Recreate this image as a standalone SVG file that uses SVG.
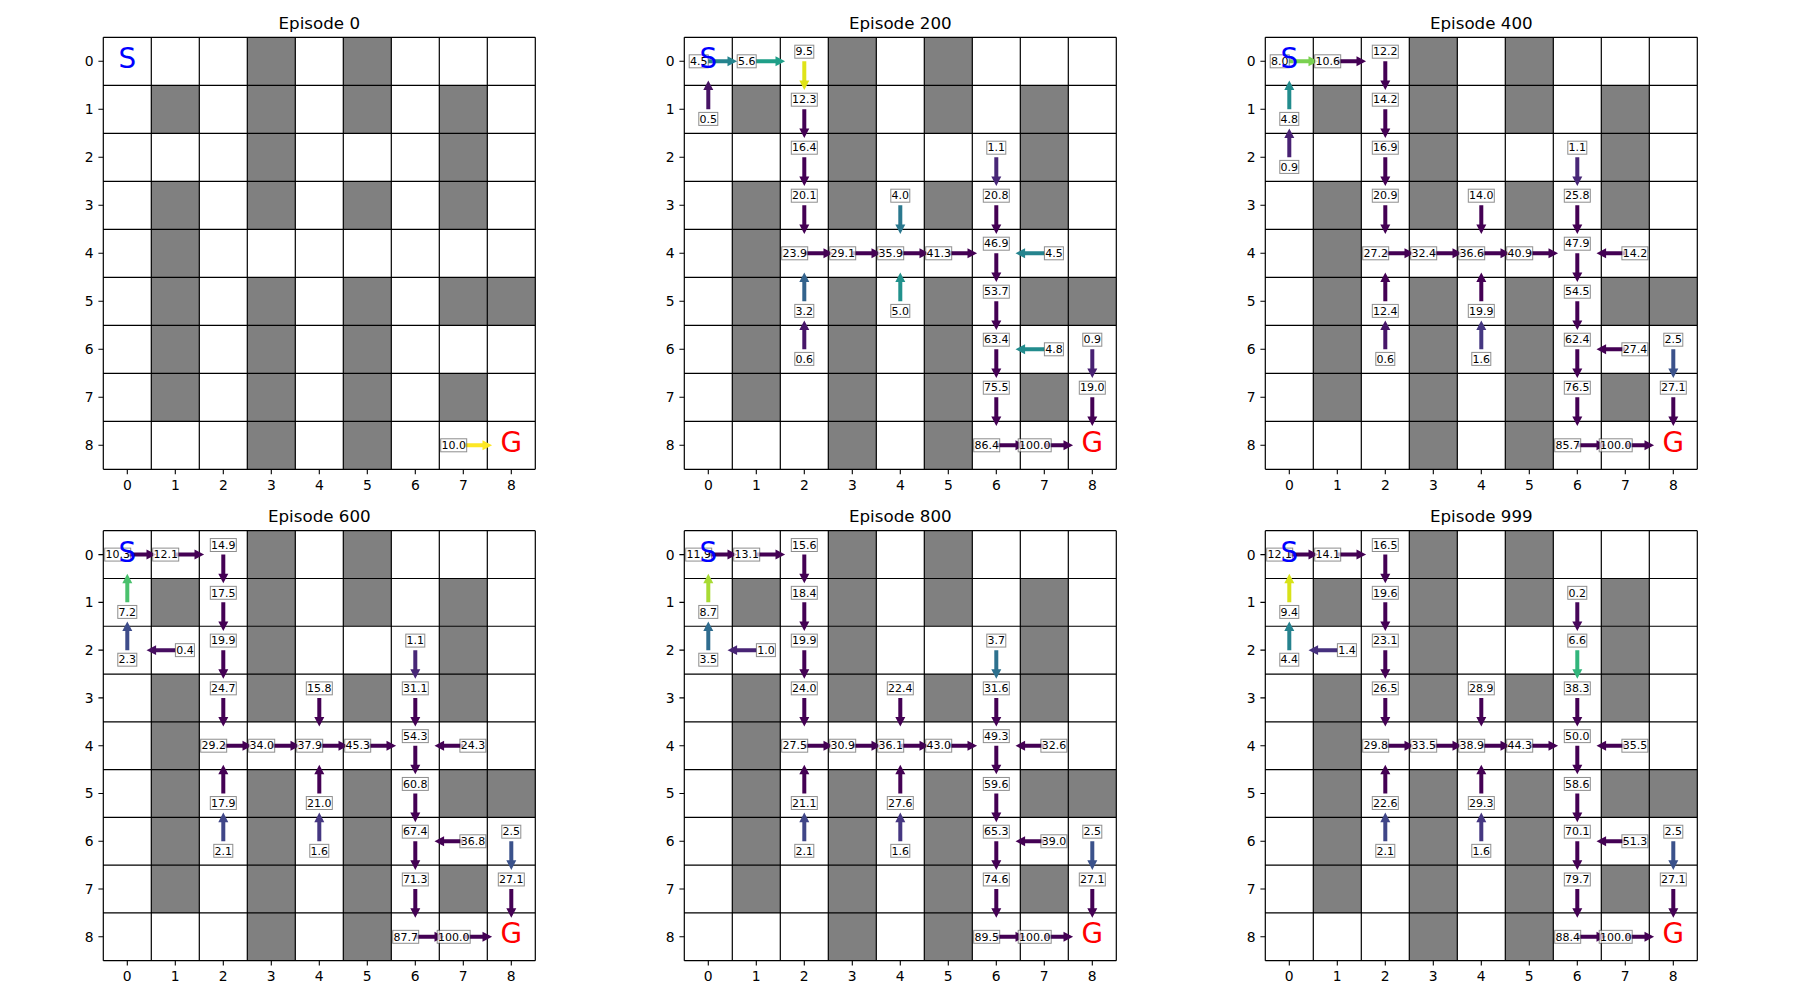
<svg xmlns="http://www.w3.org/2000/svg" xmlns:xlink="http://www.w3.org/1999/xlink" width="1800" height="1000" viewBox="0 0 1800 1000">
<style>
text{font-family:"DejaVu Sans","Liberation Sans",sans-serif}
.title{font-size:16.7px;text-anchor:middle;fill:#000}
.tk{font-size:13.9px;fill:#000}
.tky{text-anchor:end}
.tkx{text-anchor:middle}
.arrows{fill:#440154}
.labels text{font-size:11px;text-anchor:middle;fill:#000}
.sg{font-size:27.8px;text-anchor:middle}
</style>
<defs>
<path id="R" d="M0,-2H19.2V-5L28.8,0L19.2,5V2H0Z"/>
<path id="L" d="M0,-2H-19.2V-5L-28.8,0L-19.2,5V2H0Z"/>
<path id="D" d="M-2,0V19.2H-5L0,28.8L5,19.2H2V0Z"/>
<path id="U" d="M-2,0V-19.2H-5L0,-28.8L5,-19.2H2V0Z"/>
<rect id="b3" x="-9.5" y="-6.5" width="19" height="13" fill="#fff" fill-opacity="0.7" stroke="#000" stroke-opacity="0.45" stroke-width="1"/>
<rect id="b4" x="-13" y="-6.5" width="26" height="13" fill="#fff" fill-opacity="0.7" stroke="#000" stroke-opacity="0.45" stroke-width="1"/>
<rect id="b5" x="-16.5" y="-6.5" width="33" height="13" fill="#fff" fill-opacity="0.7" stroke="#000" stroke-opacity="0.45" stroke-width="1"/>
<g id="board">
<rect width="432" height="432" fill="#fff"/>
<g fill="#808080">
<rect x="144" y="0" width="48" height="48"/><rect x="240" y="0" width="48" height="48"/>
<rect x="48" y="48" width="48" height="48"/><rect x="144" y="48" width="48" height="48"/><rect x="240" y="48" width="48" height="48"/><rect x="336" y="48" width="48" height="48"/>
<rect x="144" y="96" width="48" height="48"/><rect x="336" y="96" width="48" height="48"/>
<rect x="48" y="144" width="48" height="48"/><rect x="144" y="144" width="48" height="48"/><rect x="240" y="144" width="48" height="48"/><rect x="336" y="144" width="48" height="48"/>
<rect x="48" y="192" width="48" height="48"/>
<rect x="48" y="240" width="48" height="48"/><rect x="144" y="240" width="48" height="48"/><rect x="240" y="240" width="48" height="48"/><rect x="336" y="240" width="48" height="48"/><rect x="384" y="240" width="48" height="48"/>
<rect x="48" y="288" width="48" height="48"/><rect x="144" y="288" width="48" height="48"/><rect x="240" y="288" width="48" height="48"/>
<rect x="48" y="336" width="48" height="48"/><rect x="144" y="336" width="48" height="48"/><rect x="240" y="336" width="48" height="48"/><rect x="336" y="336" width="48" height="48"/>
<rect x="144" y="384" width="48" height="48"/><rect x="240" y="384" width="48" height="48"/>
</g>
<path fill="none" stroke="#000" stroke-width="1.2" d="M0,0V432M48,0V432M96,0V432M144,0V432M192,0V432M240,0V432M288,0V432M336,0V432M384,0V432M432,0V432M0,0H432M0,48H432M0,96H432M0,144H432M0,192H432M0,240H432M0,288H432M0,336H432M0,384H432M0,432H432"/>
<path fill="none" stroke="#000" stroke-width="1.1" d="M-4.9,24H0M-4.9,72H0M-4.9,120H0M-4.9,168H0M-4.9,216H0M-4.9,264H0M-4.9,312H0M-4.9,360H0M-4.9,408H0M24,432V436.9M72,432V436.9M120,432V436.9M168,432V436.9M216,432V436.9M264,432V436.9M312,432V436.9M360,432V436.9M408,432V436.9"/>
<g class="tk tky">
<text x="-9.7" y="29">0</text><text x="-9.7" y="77">1</text><text x="-9.7" y="125">2</text><text x="-9.7" y="173">3</text><text x="-9.7" y="221">4</text><text x="-9.7" y="269">5</text><text x="-9.7" y="317">6</text><text x="-9.7" y="365">7</text><text x="-9.7" y="413">8</text>
</g>
<g class="tk tkx">
<text x="24" y="452.7">0</text><text x="72" y="452.7">1</text><text x="120" y="452.7">2</text><text x="168" y="452.7">3</text><text x="216" y="452.7">4</text><text x="264" y="452.7">5</text><text x="312" y="452.7">6</text><text x="360" y="452.7">7</text><text x="408" y="452.7">8</text>
</g>
</g>
<g id="sg">
<text class="sg" x="24" y="31" fill="#0000ff">S</text>
<text class="sg" x="408" y="414.7" fill="#ff0000">G</text>
</g>
</defs>

<rect width="1800" height="1000" fill="#fff"/>

<!-- Episode 0 -->
<g id="ep0" transform="translate(103.3,37.3)">
<text class="title" x="216" y="-8.3">Episode 0</text>
<use href="#board"/>
<g id="ep0-arrows" class="arrows">
<use href="#R" x="360" y="408" fill="#fde725"/>
</g>
<g id="ep0-labels" class="labels">
<use href="#b4" x="350.4" y="408"/><text x="350.4" y="411.8">10.0</text>
</g>
<use href="#sg"/>
</g>

<!-- Episode 200 -->
<g id="ep200" transform="translate(684.3,37.3)">
<text class="title" x="216" y="-8.3">Episode 200</text>
<use href="#board"/>
<g id="ep200-arrows" class="arrows">
<use href="#R" x="24" y="24" fill="#25848e"/>
<use href="#R" x="72" y="24" fill="#1f9f88"/>
<use href="#D" x="120" y="24" fill="#dfe318"/>
<use href="#U" x="24" y="72" fill="#471365"/>
<use href="#D" x="120" y="72"/>
<use href="#D" x="120" y="120"/>
<use href="#D" x="120" y="168"/>
<use href="#R" x="120" y="216"/>
<use href="#R" x="168" y="216"/>
<use href="#R" x="216" y="216"/>
<use href="#R" x="264" y="216"/>
<use href="#D" x="312" y="120" fill="#482777"/>
<use href="#D" x="216" y="168" fill="#2a788e"/>
<use href="#D" x="312" y="168"/>
<use href="#D" x="312" y="216"/>
<use href="#L" x="360" y="216" fill="#25848e"/>
<use href="#U" x="120" y="264" fill="#33638d"/>
<use href="#U" x="216" y="264" fill="#21918c"/>
<use href="#D" x="312" y="264"/>
<use href="#U" x="120" y="312" fill="#471669"/>
<use href="#D" x="312" y="312"/>
<use href="#L" x="360" y="312" fill="#228c8d"/>
<use href="#D" x="408" y="312" fill="#482173"/>
<use href="#D" x="312" y="360"/>
<use href="#D" x="408" y="360"/>
<use href="#R" x="312" y="408"/>
<use href="#R" x="360" y="408"/>
</g>
<g id="ep200-labels" class="labels">
<use href="#b3" x="14.4" y="24"/><text x="14.4" y="27.8">4.5</text>
<use href="#b3" x="62.4" y="24"/><text x="62.4" y="27.8">5.6</text>
<use href="#b3" x="120" y="14.4"/><text x="120" y="18.2">9.5</text>
<use href="#b3" x="24" y="81.6"/><text x="24" y="85.4">0.5</text>
<use href="#b4" x="120" y="62.4"/><text x="120" y="66.2">12.3</text>
<use href="#b4" x="120" y="110.4"/><text x="120" y="114.2">16.4</text>
<use href="#b4" x="120" y="158.4"/><text x="120" y="162.2">20.1</text>
<use href="#b4" x="110.4" y="216"/><text x="110.4" y="219.8">23.9</text>
<use href="#b4" x="158.4" y="216"/><text x="158.4" y="219.8">29.1</text>
<use href="#b4" x="206.4" y="216"/><text x="206.4" y="219.8">35.9</text>
<use href="#b4" x="254.4" y="216"/><text x="254.4" y="219.8">41.3</text>
<use href="#b3" x="312" y="110.4"/><text x="312" y="114.2">1.1</text>
<use href="#b3" x="216" y="158.4"/><text x="216" y="162.2">4.0</text>
<use href="#b4" x="312" y="158.4"/><text x="312" y="162.2">20.8</text>
<use href="#b4" x="312" y="206.4"/><text x="312" y="210.2">46.9</text>
<use href="#b3" x="369.6" y="216"/><text x="369.6" y="219.8">4.5</text>
<use href="#b3" x="120" y="273.6"/><text x="120" y="277.4">3.2</text>
<use href="#b3" x="216" y="273.6"/><text x="216" y="277.4">5.0</text>
<use href="#b4" x="312" y="254.4"/><text x="312" y="258.2">53.7</text>
<use href="#b3" x="120" y="321.6"/><text x="120" y="325.4">0.6</text>
<use href="#b4" x="312" y="302.4"/><text x="312" y="306.2">63.4</text>
<use href="#b3" x="369.6" y="312"/><text x="369.6" y="315.8">4.8</text>
<use href="#b3" x="408" y="302.4"/><text x="408" y="306.2">0.9</text>
<use href="#b4" x="312" y="350.4"/><text x="312" y="354.2">75.5</text>
<use href="#b4" x="408" y="350.4"/><text x="408" y="354.2">19.0</text>
<use href="#b4" x="302.4" y="408"/><text x="302.4" y="411.8">86.4</text>
<use href="#b5" x="350.4" y="408"/><text x="350.4" y="411.8">100.0</text>
</g>
<use href="#sg"/>
</g>

<!-- Episode 400 -->
<g id="ep400" transform="translate(1265.3,37.3)">
<text class="title" x="216" y="-8.3">Episode 400</text>
<use href="#board"/>
<g id="ep400-arrows" class="arrows">
<use href="#R" x="24" y="24" fill="#7ad151"/>
<use href="#R" x="72" y="24"/>
<use href="#D" x="120" y="24"/>
<use href="#U" x="24" y="72" fill="#228c8d"/>
<use href="#D" x="120" y="72"/>
<use href="#U" x="24" y="120" fill="#482173"/>
<use href="#D" x="120" y="120"/>
<use href="#D" x="312" y="120" fill="#482777"/>
<use href="#D" x="120" y="168"/>
<use href="#D" x="216" y="168"/>
<use href="#D" x="312" y="168"/>
<use href="#R" x="120" y="216"/>
<use href="#R" x="168" y="216"/>
<use href="#R" x="216" y="216"/>
<use href="#R" x="264" y="216"/>
<use href="#D" x="312" y="216"/>
<use href="#L" x="360" y="216"/>
<use href="#U" x="120" y="264"/>
<use href="#U" x="216" y="264"/>
<use href="#D" x="312" y="264"/>
<use href="#U" x="120" y="312" fill="#471669"/>
<use href="#U" x="216" y="312" fill="#453781"/>
<use href="#D" x="312" y="312"/>
<use href="#L" x="360" y="312"/>
<use href="#D" x="408" y="312" fill="#3b528b"/>
<use href="#D" x="312" y="360"/>
<use href="#D" x="408" y="360"/>
<use href="#R" x="312" y="408"/>
<use href="#R" x="360" y="408"/>
</g>
<g id="ep400-labels" class="labels">
<use href="#b3" x="14.4" y="24"/><text x="14.4" y="27.8">8.0</text>
<use href="#b4" x="62.4" y="24"/><text x="62.4" y="27.8">10.6</text>
<use href="#b4" x="120" y="14.4"/><text x="120" y="18.2">12.2</text>
<use href="#b3" x="24" y="81.6"/><text x="24" y="85.4">4.8</text>
<use href="#b4" x="120" y="62.4"/><text x="120" y="66.2">14.2</text>
<use href="#b3" x="24" y="129.6"/><text x="24" y="133.4">0.9</text>
<use href="#b4" x="120" y="110.4"/><text x="120" y="114.2">16.9</text>
<use href="#b3" x="312" y="110.4"/><text x="312" y="114.2">1.1</text>
<use href="#b4" x="120" y="158.4"/><text x="120" y="162.2">20.9</text>
<use href="#b4" x="216" y="158.4"/><text x="216" y="162.2">14.0</text>
<use href="#b4" x="312" y="158.4"/><text x="312" y="162.2">25.8</text>
<use href="#b4" x="110.4" y="216"/><text x="110.4" y="219.8">27.2</text>
<use href="#b4" x="158.4" y="216"/><text x="158.4" y="219.8">32.4</text>
<use href="#b4" x="206.4" y="216"/><text x="206.4" y="219.8">36.6</text>
<use href="#b4" x="254.4" y="216"/><text x="254.4" y="219.8">40.9</text>
<use href="#b4" x="312" y="206.4"/><text x="312" y="210.2">47.9</text>
<use href="#b4" x="369.6" y="216"/><text x="369.6" y="219.8">14.2</text>
<use href="#b4" x="120" y="273.6"/><text x="120" y="277.4">12.4</text>
<use href="#b4" x="216" y="273.6"/><text x="216" y="277.4">19.9</text>
<use href="#b4" x="312" y="254.4"/><text x="312" y="258.2">54.5</text>
<use href="#b3" x="120" y="321.6"/><text x="120" y="325.4">0.6</text>
<use href="#b3" x="216" y="321.6"/><text x="216" y="325.4">1.6</text>
<use href="#b4" x="312" y="302.4"/><text x="312" y="306.2">62.4</text>
<use href="#b4" x="369.6" y="312"/><text x="369.6" y="315.8">27.4</text>
<use href="#b3" x="408" y="302.4"/><text x="408" y="306.2">2.5</text>
<use href="#b4" x="312" y="350.4"/><text x="312" y="354.2">76.5</text>
<use href="#b4" x="408" y="350.4"/><text x="408" y="354.2">27.1</text>
<use href="#b4" x="302.4" y="408"/><text x="302.4" y="411.8">85.7</text>
<use href="#b5" x="350.4" y="408"/><text x="350.4" y="411.8">100.0</text>
</g>
<use href="#sg"/>
</g>

<!-- Episode 600 -->
<g id="ep600" transform="translate(103.3,530.7) scale(1,0.99537)">
<text class="title" x="216" y="-8.3">Episode 600</text>
<use href="#board"/>
<g id="ep600-arrows" class="arrows">
<use href="#R" x="24" y="24"/>
<use href="#R" x="72" y="24"/>
<use href="#D" x="120" y="24"/>
<use href="#U" x="24" y="72" fill="#4ac16d"/>
<use href="#D" x="120" y="72"/>
<use href="#U" x="24" y="120" fill="#3e4c8a"/>
<use href="#L" x="72" y="120" fill="#470e61"/>
<use href="#D" x="120" y="120"/>
<use href="#D" x="312" y="120" fill="#482777"/>
<use href="#D" x="120" y="168"/>
<use href="#D" x="216" y="168"/>
<use href="#D" x="312" y="168"/>
<use href="#R" x="120" y="216"/>
<use href="#R" x="168" y="216"/>
<use href="#R" x="216" y="216"/>
<use href="#R" x="264" y="216"/>
<use href="#D" x="312" y="216"/>
<use href="#L" x="360" y="216"/>
<use href="#U" x="120" y="264"/>
<use href="#U" x="216" y="264"/>
<use href="#D" x="312" y="264"/>
<use href="#U" x="120" y="312" fill="#404688"/>
<use href="#U" x="216" y="312" fill="#453781"/>
<use href="#D" x="312" y="312"/>
<use href="#L" x="360" y="312"/>
<use href="#D" x="408" y="312" fill="#3b528b"/>
<use href="#D" x="312" y="360"/>
<use href="#D" x="408" y="360"/>
<use href="#R" x="312" y="408"/>
<use href="#R" x="360" y="408"/>
</g>
<g id="ep600-labels" class="labels">
<use href="#b4" x="14.4" y="24"/><text x="14.4" y="27.8">10.3</text>
<use href="#b4" x="62.4" y="24"/><text x="62.4" y="27.8">12.1</text>
<use href="#b4" x="120" y="14.4"/><text x="120" y="18.2">14.9</text>
<use href="#b3" x="24" y="81.6"/><text x="24" y="85.4">7.2</text>
<use href="#b4" x="120" y="62.4"/><text x="120" y="66.2">17.5</text>
<use href="#b3" x="24" y="129.6"/><text x="24" y="133.4">2.3</text>
<use href="#b3" x="81.6" y="120"/><text x="81.6" y="123.8">0.4</text>
<use href="#b4" x="120" y="110.4"/><text x="120" y="114.2">19.9</text>
<use href="#b3" x="312" y="110.4"/><text x="312" y="114.2">1.1</text>
<use href="#b4" x="120" y="158.4"/><text x="120" y="162.2">24.7</text>
<use href="#b4" x="216" y="158.4"/><text x="216" y="162.2">15.8</text>
<use href="#b4" x="312" y="158.4"/><text x="312" y="162.2">31.1</text>
<use href="#b4" x="110.4" y="216"/><text x="110.4" y="219.8">29.2</text>
<use href="#b4" x="158.4" y="216"/><text x="158.4" y="219.8">34.0</text>
<use href="#b4" x="206.4" y="216"/><text x="206.4" y="219.8">37.9</text>
<use href="#b4" x="254.4" y="216"/><text x="254.4" y="219.8">45.3</text>
<use href="#b4" x="312" y="206.4"/><text x="312" y="210.2">54.3</text>
<use href="#b4" x="369.6" y="216"/><text x="369.6" y="219.8">24.3</text>
<use href="#b4" x="120" y="273.6"/><text x="120" y="277.4">17.9</text>
<use href="#b4" x="216" y="273.6"/><text x="216" y="277.4">21.0</text>
<use href="#b4" x="312" y="254.4"/><text x="312" y="258.2">60.8</text>
<use href="#b3" x="120" y="321.6"/><text x="120" y="325.4">2.1</text>
<use href="#b3" x="216" y="321.6"/><text x="216" y="325.4">1.6</text>
<use href="#b4" x="312" y="302.4"/><text x="312" y="306.2">67.4</text>
<use href="#b4" x="369.6" y="312"/><text x="369.6" y="315.8">36.8</text>
<use href="#b3" x="408" y="302.4"/><text x="408" y="306.2">2.5</text>
<use href="#b4" x="312" y="350.4"/><text x="312" y="354.2">71.3</text>
<use href="#b4" x="408" y="350.4"/><text x="408" y="354.2">27.1</text>
<use href="#b4" x="302.4" y="408"/><text x="302.4" y="411.8">87.7</text>
<use href="#b5" x="350.4" y="408"/><text x="350.4" y="411.8">100.0</text>
</g>
<use href="#sg"/>
</g>

<!-- Episode 800 -->
<g id="ep800" transform="translate(684.3,530.7) scale(1,0.99537)">
<text class="title" x="216" y="-8.3">Episode 800</text>
<use href="#board"/>
<g id="ep800-arrows" class="arrows">
<use href="#R" x="24" y="24"/>
<use href="#R" x="72" y="24"/>
<use href="#D" x="120" y="24"/>
<use href="#U" x="24" y="72" fill="#a8db34"/>
<use href="#D" x="120" y="72"/>
<use href="#U" x="24" y="120" fill="#2f6c8e"/>
<use href="#L" x="72" y="120" fill="#482475"/>
<use href="#D" x="120" y="120"/>
<use href="#D" x="312" y="120" fill="#2d718e"/>
<use href="#D" x="120" y="168"/>
<use href="#D" x="216" y="168"/>
<use href="#D" x="312" y="168"/>
<use href="#R" x="120" y="216"/>
<use href="#R" x="168" y="216"/>
<use href="#R" x="216" y="216"/>
<use href="#R" x="264" y="216"/>
<use href="#D" x="312" y="216"/>
<use href="#L" x="360" y="216"/>
<use href="#U" x="120" y="264"/>
<use href="#U" x="216" y="264"/>
<use href="#D" x="312" y="264"/>
<use href="#U" x="120" y="312" fill="#404688"/>
<use href="#U" x="216" y="312" fill="#453781"/>
<use href="#D" x="312" y="312"/>
<use href="#L" x="360" y="312"/>
<use href="#D" x="408" y="312" fill="#3b528b"/>
<use href="#D" x="312" y="360"/>
<use href="#D" x="408" y="360"/>
<use href="#R" x="312" y="408"/>
<use href="#R" x="360" y="408"/>
</g>
<g id="ep800-labels" class="labels">
<use href="#b4" x="14.4" y="24"/><text x="14.4" y="27.8">11.9</text>
<use href="#b4" x="62.4" y="24"/><text x="62.4" y="27.8">13.1</text>
<use href="#b4" x="120" y="14.4"/><text x="120" y="18.2">15.6</text>
<use href="#b3" x="24" y="81.6"/><text x="24" y="85.4">8.7</text>
<use href="#b4" x="120" y="62.4"/><text x="120" y="66.2">18.4</text>
<use href="#b3" x="24" y="129.6"/><text x="24" y="133.4">3.5</text>
<use href="#b3" x="81.6" y="120"/><text x="81.6" y="123.8">1.0</text>
<use href="#b4" x="120" y="110.4"/><text x="120" y="114.2">19.9</text>
<use href="#b3" x="312" y="110.4"/><text x="312" y="114.2">3.7</text>
<use href="#b4" x="120" y="158.4"/><text x="120" y="162.2">24.0</text>
<use href="#b4" x="216" y="158.4"/><text x="216" y="162.2">22.4</text>
<use href="#b4" x="312" y="158.4"/><text x="312" y="162.2">31.6</text>
<use href="#b4" x="110.4" y="216"/><text x="110.4" y="219.8">27.5</text>
<use href="#b4" x="158.4" y="216"/><text x="158.4" y="219.8">30.9</text>
<use href="#b4" x="206.4" y="216"/><text x="206.4" y="219.8">36.1</text>
<use href="#b4" x="254.4" y="216"/><text x="254.4" y="219.8">43.0</text>
<use href="#b4" x="312" y="206.4"/><text x="312" y="210.2">49.3</text>
<use href="#b4" x="369.6" y="216"/><text x="369.6" y="219.8">32.6</text>
<use href="#b4" x="120" y="273.6"/><text x="120" y="277.4">21.1</text>
<use href="#b4" x="216" y="273.6"/><text x="216" y="277.4">27.6</text>
<use href="#b4" x="312" y="254.4"/><text x="312" y="258.2">59.6</text>
<use href="#b3" x="120" y="321.6"/><text x="120" y="325.4">2.1</text>
<use href="#b3" x="216" y="321.6"/><text x="216" y="325.4">1.6</text>
<use href="#b4" x="312" y="302.4"/><text x="312" y="306.2">65.3</text>
<use href="#b4" x="369.6" y="312"/><text x="369.6" y="315.8">39.0</text>
<use href="#b3" x="408" y="302.4"/><text x="408" y="306.2">2.5</text>
<use href="#b4" x="312" y="350.4"/><text x="312" y="354.2">74.6</text>
<use href="#b4" x="408" y="350.4"/><text x="408" y="354.2">27.1</text>
<use href="#b4" x="302.4" y="408"/><text x="302.4" y="411.8">89.5</text>
<use href="#b5" x="350.4" y="408"/><text x="350.4" y="411.8">100.0</text>
</g>
<use href="#sg"/>
</g>

<!-- Episode 999 -->
<g id="ep999" transform="translate(1265.3,530.7) scale(1,0.99537)">
<text class="title" x="216" y="-8.3">Episode 999</text>
<use href="#board"/>
<g id="ep999-arrows" class="arrows">
<use href="#R" x="24" y="24"/>
<use href="#R" x="72" y="24"/>
<use href="#D" x="120" y="24"/>
<use href="#U" x="24" y="72" fill="#d8e219"/>
<use href="#D" x="120" y="72"/>
<use href="#D" x="312" y="72" fill="#46075a"/>
<use href="#U" x="24" y="120" fill="#26828e"/>
<use href="#L" x="72" y="120" fill="#46307e"/>
<use href="#D" x="120" y="120"/>
<use href="#D" x="312" y="120" fill="#31b57b"/>
<use href="#D" x="120" y="168"/>
<use href="#D" x="216" y="168"/>
<use href="#D" x="312" y="168"/>
<use href="#R" x="120" y="216"/>
<use href="#R" x="168" y="216"/>
<use href="#R" x="216" y="216"/>
<use href="#R" x="264" y="216"/>
<use href="#D" x="312" y="216"/>
<use href="#L" x="360" y="216"/>
<use href="#U" x="120" y="264"/>
<use href="#U" x="216" y="264"/>
<use href="#D" x="312" y="264"/>
<use href="#U" x="120" y="312" fill="#404688"/>
<use href="#U" x="216" y="312" fill="#453781"/>
<use href="#D" x="312" y="312"/>
<use href="#L" x="360" y="312"/>
<use href="#D" x="408" y="312" fill="#3b528b"/>
<use href="#D" x="312" y="360"/>
<use href="#D" x="408" y="360"/>
<use href="#R" x="312" y="408"/>
<use href="#R" x="360" y="408"/>
</g>
<g id="ep999-labels" class="labels">
<use href="#b4" x="14.4" y="24"/><text x="14.4" y="27.8">12.1</text>
<use href="#b4" x="62.4" y="24"/><text x="62.4" y="27.8">14.1</text>
<use href="#b4" x="120" y="14.4"/><text x="120" y="18.2">16.5</text>
<use href="#b3" x="24" y="81.6"/><text x="24" y="85.4">9.4</text>
<use href="#b4" x="120" y="62.4"/><text x="120" y="66.2">19.6</text>
<use href="#b3" x="312" y="62.4"/><text x="312" y="66.2">0.2</text>
<use href="#b3" x="24" y="129.6"/><text x="24" y="133.4">4.4</text>
<use href="#b3" x="81.6" y="120"/><text x="81.6" y="123.8">1.4</text>
<use href="#b4" x="120" y="110.4"/><text x="120" y="114.2">23.1</text>
<use href="#b3" x="312" y="110.4"/><text x="312" y="114.2">6.6</text>
<use href="#b4" x="120" y="158.4"/><text x="120" y="162.2">26.5</text>
<use href="#b4" x="216" y="158.4"/><text x="216" y="162.2">28.9</text>
<use href="#b4" x="312" y="158.4"/><text x="312" y="162.2">38.3</text>
<use href="#b4" x="110.4" y="216"/><text x="110.4" y="219.8">29.8</text>
<use href="#b4" x="158.4" y="216"/><text x="158.4" y="219.8">33.5</text>
<use href="#b4" x="206.4" y="216"/><text x="206.4" y="219.8">38.9</text>
<use href="#b4" x="254.4" y="216"/><text x="254.4" y="219.8">44.3</text>
<use href="#b4" x="312" y="206.4"/><text x="312" y="210.2">50.0</text>
<use href="#b4" x="369.6" y="216"/><text x="369.6" y="219.8">35.5</text>
<use href="#b4" x="120" y="273.6"/><text x="120" y="277.4">22.6</text>
<use href="#b4" x="216" y="273.6"/><text x="216" y="277.4">29.3</text>
<use href="#b4" x="312" y="254.4"/><text x="312" y="258.2">58.6</text>
<use href="#b3" x="120" y="321.6"/><text x="120" y="325.4">2.1</text>
<use href="#b3" x="216" y="321.6"/><text x="216" y="325.4">1.6</text>
<use href="#b4" x="312" y="302.4"/><text x="312" y="306.2">70.1</text>
<use href="#b4" x="369.6" y="312"/><text x="369.6" y="315.8">51.3</text>
<use href="#b3" x="408" y="302.4"/><text x="408" y="306.2">2.5</text>
<use href="#b4" x="312" y="350.4"/><text x="312" y="354.2">79.7</text>
<use href="#b4" x="408" y="350.4"/><text x="408" y="354.2">27.1</text>
<use href="#b4" x="302.4" y="408"/><text x="302.4" y="411.8">88.4</text>
<use href="#b5" x="350.4" y="408"/><text x="350.4" y="411.8">100.0</text>
</g>
<use href="#sg"/>
</g>
</svg>
